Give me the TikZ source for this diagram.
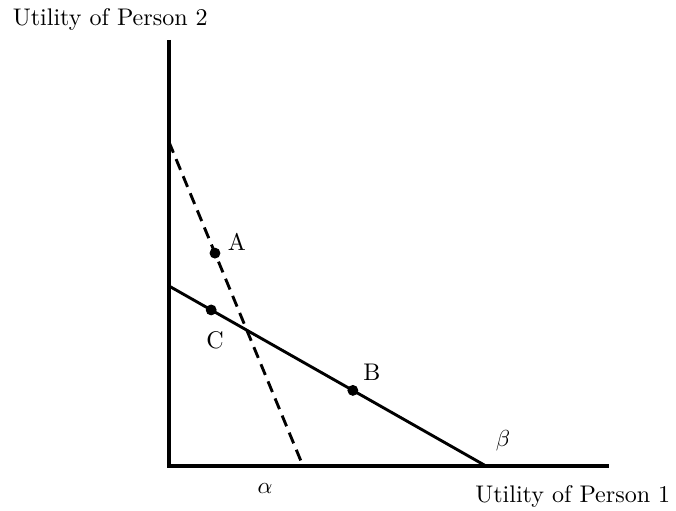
\documentclass[tikz,border=0pt]{standalone}
\usetikzlibrary{positioning}

\newcommand*{\xorig}{169}
\newcommand*{\yorig}{466}
\newcommand*{\xend}{609}
\newcommand*{\ytop}{40}

\begin{document}
\begin{tikzpicture}
[
	x=0.0152cm,y=-0.0152cm,
	dot/.style={circle,draw,fill,inner sep=0pt,minimum size=0.15cm},
	axis/.style={line width=1.4pt},
	budget/.style={line width=1.25pt},
	lbl/.style={inner sep=1pt,font=\fontsize{10.4}{12.5}\selectfont}
]
	\useasboundingbox (0,0) rectangle (676,510);

	% axes
	\coordinate (O) at (\xorig,\yorig);
	\coordinate (ytop) at (\xorig,\ytop);
	\coordinate (xend) at (\xend,\yorig);
	\draw[axis] (ytop) -- (O) -- (xend);
	\node[lbl,anchor=west] (ylab) at (10,19) {Utility of Person 2};
	\node[lbl,anchor=east] (xlab) at (673,496) {Utility of Person 1};

	% lines
	\coordinate (d0) at (\xorig,142);
	\coordinate (d1) at (303,\yorig);
	\coordinate (s0) at (\xorig,286);
	\coordinate (s1) at (486,\yorig);
	\draw[budget,dash pattern=on 5pt off 3pt] (d0) -- (d1);
	\draw[budget] (s0) -- (s1);

	% points
	\path (d0) -- (d1) node[dot,pos=0.343] (A) {};
	\path (s0) -- (s1) node[dot,pos=0.133] (C) {};
	\path (s0) -- (s1) node[dot,pos=0.58] (B) {};
	\node[lbl] (Alab) at (237,242) {A};
	\node[lbl] (Clab) at (215,340) {C};
	\node[lbl] (Blab) at (372,372) {B};
	\node[lbl] (alpha) at (265,489) {$\alpha$};
	\node[lbl] (beta) at (503,441) {$\beta$};

\end{tikzpicture}
\end{document}
